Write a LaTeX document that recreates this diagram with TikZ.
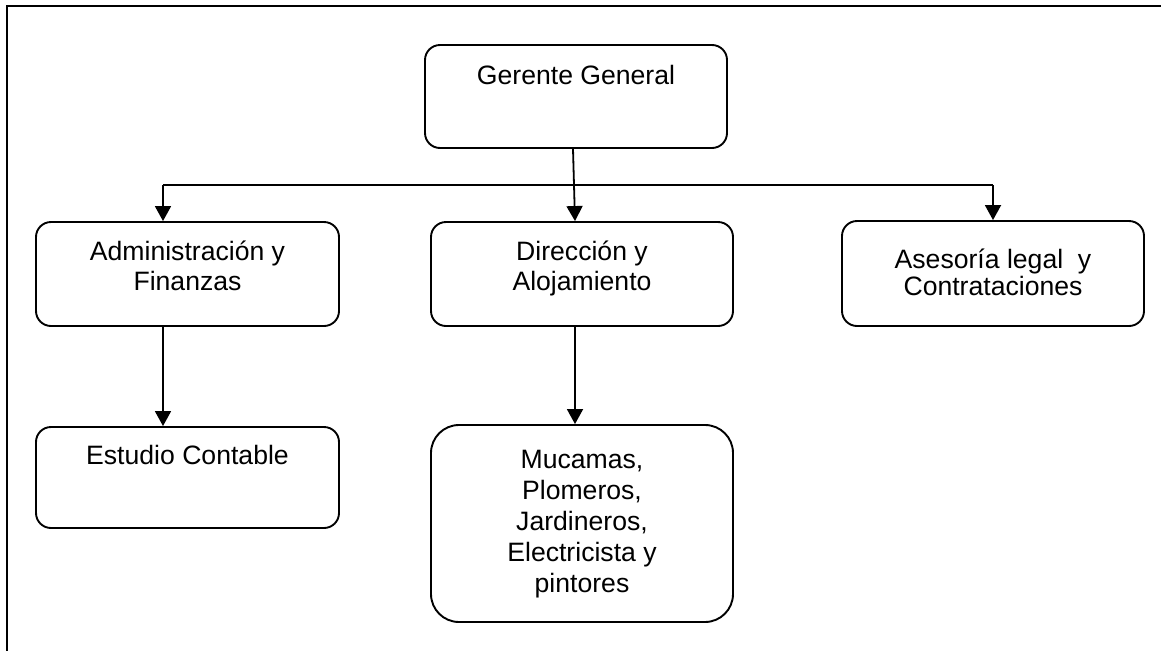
\documentclass[tikz,border=0pt]{standalone}
\usepackage{fontspec}
\setmainfont{Liberation Sans}
\usetikzlibrary{arrows.meta}
\newcommand{\myst}{\rule{0pt}{22pt}}
\begin{document}
\begin{tikzpicture}[x=1pt,y=-1pt,
  box/.style={draw, line width=1.9pt, rounded corners=15pt, minimum width=303pt, minimum height=104pt, inner sep=0pt},
  txt/.style={anchor=north, inner sep=0pt, align=center, font=\fontsize{26.6}{30}\selectfont},
  conn/.style={line width=1.8pt},
  arr/.style={line width=1.8pt, -{Triangle[length=15pt,width=16pt]}},
  frame/.style={line width=2.6pt}]
\useasboundingbox (0,0) rectangle (1161,651);
% outer frame (top and left edges)
\coordinate (ftl) at (7,6);
\coordinate (ftr) at (1161,6);
\coordinate (fbl) at (7,651);
\draw[frame] (ftr) -- (ftl) -- (fbl);
% boxes
\node[box, minimum width=302pt, minimum height=103pt,
  label={[txt, yshift=-18pt]north:{\myst Gerente General}}] (g) at (576,96.5) {};
\node[box,
  label={[txt, yshift=-17pt]north:{\myst Administración y\\Finanzas}}] (a) at (187.5,274) {};
\node[box, minimum width=302pt,
  label={[txt, yshift=-17pt]north:{\myst Dirección y\\Alojamiento}}] (d) at (582,274) {};
\node[box, minimum width=302pt, minimum height=105pt,
  label={[txt, yshift=-26pt, font=\fontsize{26.6}{27}\selectfont]north:{\myst Asesoría legal~~y\\Contrataciones}}] (s) at (993,273.5) {};
\node[box, minimum height=101pt,
  label={[txt, yshift=-16pt]north:{\myst Estudio Contable}}] (e) at (187.5,477.5) {};
\node[box, minimum width=302pt, minimum height=197pt, rounded corners=28pt,
  label={[txt, yshift=-22pt, font=\fontsize{26.6}{31}\selectfont]north:{\myst Mucamas,\\Plomeros,\\Jardineros,\\Electricista y\\pintores}}] (m) at (582,523.5) {};
% connectors
\coordinate (hl) at (163,185);
\coordinate (hr) at (993,185);
\draw[conn] (hl) -- (hr);
\draw[arr] (hl) -- (hl |- a.north);
\draw[arr] (hr) -- (hr |- s.north);
\draw[arr] ([xshift=-3pt]g.south) -- ([xshift=-7pt]d.north);
\draw[arr] ([xshift=-24.5pt]a.south) -- ([xshift=-24.5pt]e.north);
\draw[arr] ([xshift=-7pt]d.south) -- ([xshift=-7pt]m.north);
\end{tikzpicture}
\end{document}
